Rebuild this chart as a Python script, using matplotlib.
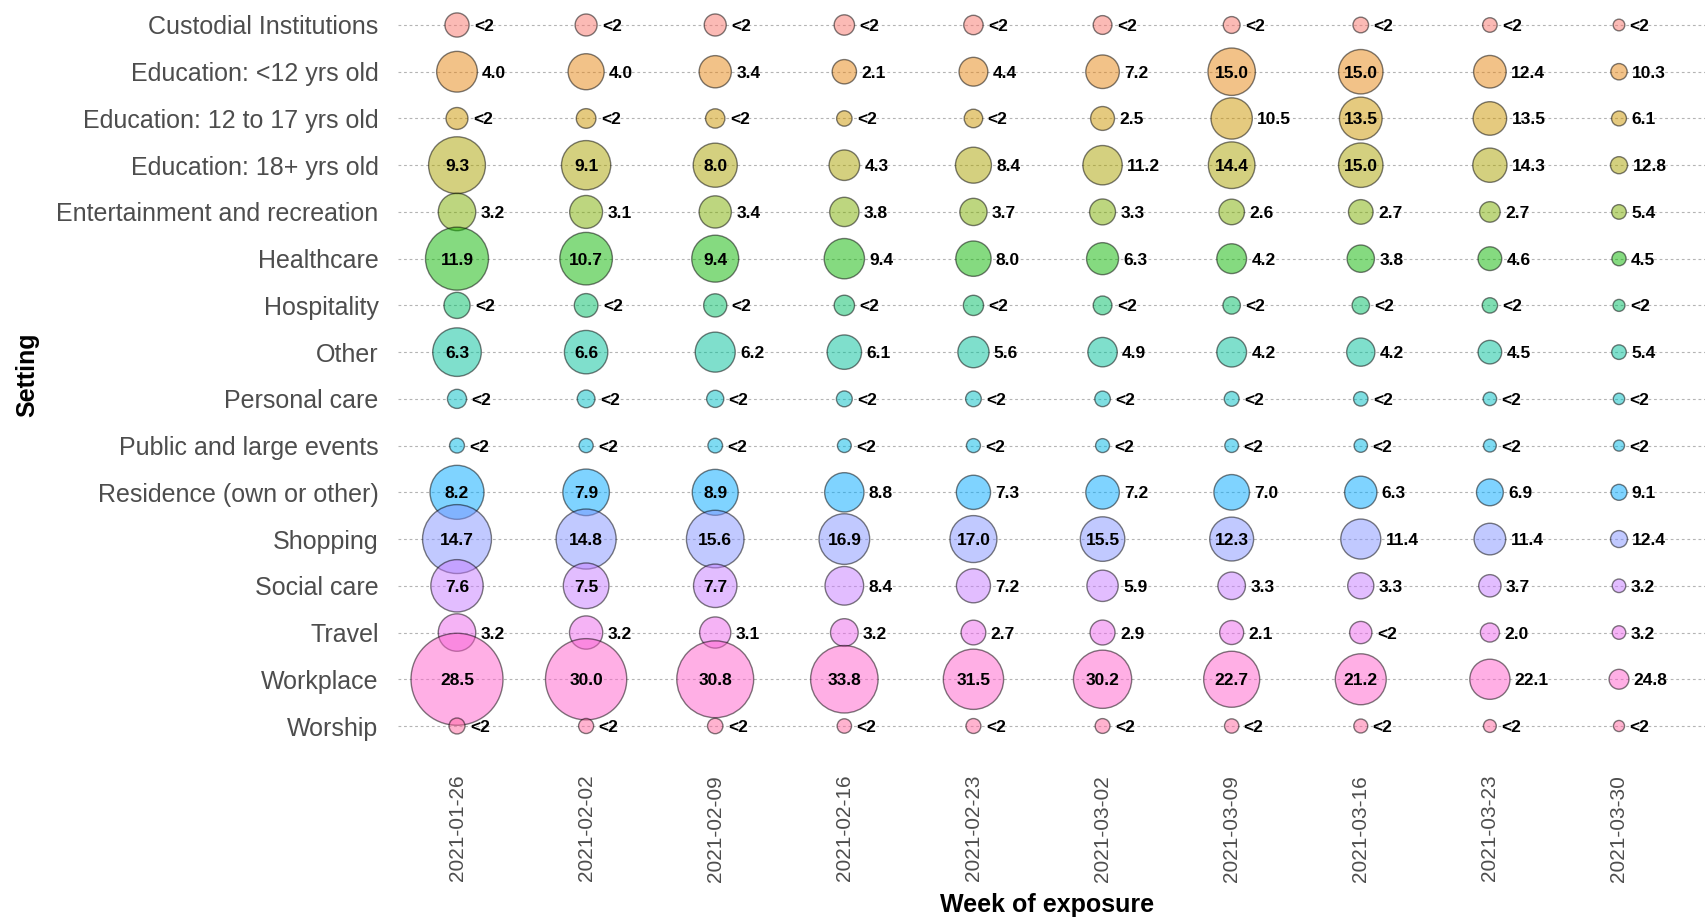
import numpy as np
import matplotlib
matplotlib.use("Agg")
import matplotlib.pyplot as plt

settings = [
    "Custodial Institutions", "Education: <12 yrs old", "Education: 12 to 17 yrs old",
    "Education: 18+ yrs old", "Entertainment and recreation", "Healthcare", "Hospitality",
    "Other", "Personal care", "Public and large events", "Residence (own or other)",
    "Shopping", "Social care", "Travel", "Workplace", "Worship",
]
weeks = ["2021-01-26", "2021-02-02", "2021-02-09", "2021-02-16", "2021-02-23",
         "2021-03-02", "2021-03-09", "2021-03-16", "2021-03-23", "2021-03-30"]

# percentage of cases per setting (values < 2 are shown as "<2")
custodial   = [0.85, 0.85, 1.0, 1.1, 1.1, 1.0, 0.5, 0.4, 0.5, 0.7]
edu_u12     = [4.0, 4.0, 3.4, 2.1, 4.4, 7.2, 15.0, 15.0, 12.4, 10.3]
edu_12_17   = [0.6, 0.55, 0.6, 0.3, 0.9, 2.5, 10.5, 13.5, 13.5, 6.1]
edu_18p     = [9.3, 9.1, 8.0, 4.3, 8.4, 11.2, 14.4, 15.0, 14.3, 12.8]
entertain   = [3.2, 3.1, 3.4, 3.8, 3.7, 3.3, 2.6, 2.7, 2.7, 5.4]
healthcare  = [11.9, 10.7, 9.4, 9.4, 8.0, 6.3, 4.2, 3.8, 4.6, 4.5]
hospitality = [1.1, 1.1, 1.2, 1.1, 1.3, 1.0, 0.6, 0.7, 0.7, 1.0]
other       = [6.3, 6.6, 6.2, 6.1, 5.6, 4.9, 4.2, 4.2, 4.5, 5.4]
personal    = [0.35, 0.35, 0.35, 0.35, 0.4, 0.4, 0.25, 0.25, 0.3, 0.5]
public_ev   = [0.1, 0.1, 0.15, 0.15, 0.2, 0.2, 0.15, 0.15, 0.2, 0.3]
residence   = [8.2, 7.9, 8.9, 8.8, 7.3, 7.2, 7.0, 6.3, 6.9, 9.1]
shopping    = [14.7, 14.8, 15.6, 16.9, 17.0, 15.5, 12.3, 11.4, 11.4, 12.4]
social_care = [7.6, 7.5, 7.7, 8.4, 7.2, 5.9, 3.3, 3.3, 3.7, 3.2]
travel      = [3.2, 3.2, 3.1, 3.2, 2.7, 2.9, 2.1, 1.9, 2.0, 3.2]
workplace   = [28.5, 30.0, 30.8, 33.8, 31.5, 30.2, 22.7, 21.2, 22.1, 24.8]
worship     = [0.15, 0.15, 0.2, 0.2, 0.3, 0.3, 0.2, 0.2, 0.2, 0.3]

# relative number of cases in each week (drives bubble size = count)
week_relative_cases = [1.0, 0.717, 0.615, 0.414, 0.34, 0.326, 0.395, 0.335, 0.174, 0.0166]

colors = ["#F8766D", "#E68613", "#CD9600", "#ABA300", "#7CAE00", "#0CB702", "#00BE67",
          "#00C19A", "#00BFC4", "#00B8E7", "#00A9FF", "#8494FF", "#C77CFF", "#ED68ED",
          "#FF61CC", "#FF68A1"]

pct = np.array([custodial, edu_u12, edu_12_17, edu_18p, entertain, healthcare, hospitality,
                other, personal, public_ev, residence, shopping, social_care, travel,
                workplace, worship])
wts = np.array(week_relative_cases)
counts = pct * wts[None, :]

W, H, DPI = 1706, 921, 100
fig = plt.figure(figsize=(W / DPI, H / DPI), dpi=DPI)
left_px, right_px, top_px, bottom_px = 398, 1706, 0, 754
ax = fig.add_axes([left_px / W, 1 - bottom_px / H, (right_px - left_px) / W, (bottom_px - top_px) / H])

col_px = 129.1
ax.set_xlim(-(457 - left_px) / col_px, 9 + (right_px - 1619) / col_px)
row_px = (726 - 25) / 15
ax.set_ylim(15 + (bottom_px - 726) / row_px, -(25 - top_px) / row_px)

font = "Liberation Sans"
d_min, d_k = 10.0, 15.36   # bubble diameter (px) = d_min + d_k*sqrt(count)
threshold = 4.4

xs, ys = np.meshgrid(np.arange(len(weeks)), np.arange(len(settings)))
diam_px = d_min + d_k * np.sqrt(counts)
diam_pt = diam_px * 72 / DPI

ax.grid(axis="y", linestyle=(0, (2.5, 2.5)), color="#B4B4B4", linewidth=0.8)
ax.grid(axis="x", visible=False)
ax.set_axisbelow(True)

for i in range(len(settings)):
    ax.scatter(xs[i], ys[i], s=diam_pt[i] ** 2, color=colors[i], alpha=0.5,
               edgecolors="black", linewidths=1.0, zorder=3)

lab_size = 12.5
for i in range(len(settings)):
    for j in range(len(weeks)):
        v = pct[i, j]
        lab = "<2" if v < 2 else f"{v:.1f}"
        if v >= 2 and counts[i, j] > threshold:
            ax.annotate(lab, (j, i), ha="center", va="center_baseline", fontsize=lab_size,
                        fontweight="bold", family=font, color="black", zorder=5)
        else:
            ax.annotate(lab, (j, i), xytext=(diam_pt[i, j] / 2 + 3.5, 0),
                        textcoords="offset points", ha="left", va="center_baseline",
                        fontsize=lab_size, fontweight="bold", family=font, color="black", zorder=5)

ax.set_xticks(range(len(weeks)))
ax.set_xticklabels(weeks, rotation=90, fontsize=15, family=font, color="#4D4D4D")
ax.set_yticks(range(len(settings)))
ax.set_yticklabels(settings, fontsize=18, family=font, color="#4D4D4D")
ax.tick_params(axis="x", length=0, pad=15)
ax.tick_params(axis="y", length=0, pad=14)
for sp in ax.spines.values():
    sp.set_visible(False)

fig.text(1047 / W, 1 - 905 / H, "Week of exposure", ha="center", va="center",
         fontsize=18, fontweight="bold", family=font)
fig.text(27 / W, 1 - 375 / H, "Setting", ha="center", va="center", rotation=90,
         fontsize=18, fontweight="bold", family=font)

fig.savefig("out.png", dpi=DPI)
